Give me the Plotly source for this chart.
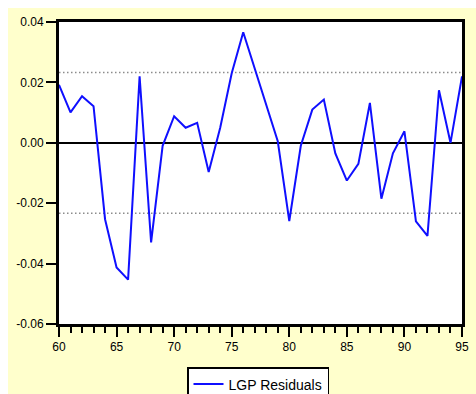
import plotly.graph_objects as go

# Regression residuals, annual, 1960-1995
years = list(range(60, 96))
residuals = [
    0.0192, 0.0101, 0.0154, 0.0121, -0.0253, -0.0413, -0.0453, 0.0220,
    -0.0330, -0.0010, 0.0088, 0.0050, 0.0066, -0.0097, 0.0050, 0.0230,
    0.0366, 0.0248, 0.0125, 0.0005, -0.0259, -0.0010, 0.0110, 0.0143,
    -0.0035, -0.0125, -0.0070, 0.0132, -0.0185, -0.0035, 0.0038, -0.0260,
    -0.0308, 0.0174, 0.0000, 0.0220,
]
series_name = "LGP Residuals"

# +/- one standard error band
std_err = 0.0233

y_tick_vals = [0.04, 0.02, 0.00, -0.02, -0.04, -0.06]
y_tick_text = ["0.04", "0.02", "0.00", "-0.02", "-0.04", "-0.06"]
x_tick_vals = [60, 65, 70, 75, 80, 85, 90, 95]

W, H = 476, 394
ML, MR, MT, MB = 59, 14, 22, 70
pw, ph = W - ML - MR, H - MT - MB


def px_to_paper_x(px):
    return (px - ML) / pw


def px_to_paper_y(py):
    return (H - MB - py) / ph


fig = go.Figure()
fig.add_trace(go.Scatter(
    x=years, y=residuals, mode="lines", name=series_name,
    line=dict(color="#0f0fff", width=2),
))

shapes = [
    # thin white strips along the top and left edges of the yellow panel
    dict(type="rect", xref="paper", yref="paper",
         x0=px_to_paper_x(-2), x1=px_to_paper_x(W + 2),
         y0=px_to_paper_y(-2), y1=px_to_paper_y(8),
         fillcolor="white", line=dict(width=0), layer="below"),
    dict(type="rect", xref="paper", yref="paper",
         x0=px_to_paper_x(-2), x1=px_to_paper_x(8),
         y0=px_to_paper_y(-2), y1=px_to_paper_y(H + 2),
         fillcolor="white", line=dict(width=0), layer="below"),
]
for s in (std_err, -std_err):
    shapes.append(dict(type="line", xref="paper", yref="y", x0=0, x1=1, y0=s, y1=s,
                       line=dict(color="#8c8c8c", width=1.5, dash="1.5px,2.5px"),
                       layer="below"))

fig.update_layout(
    width=W, height=H,
    margin=dict(l=ML, r=MR, t=MT, b=MB, pad=0, autoexpand=False),
    paper_bgcolor="#FFFFCC",
    plot_bgcolor="white",
    font=dict(family="Liberation Sans, Arial, sans-serif", size=12, color="black"),
    shapes=shapes,
    showlegend=True,
    legend=dict(
        x=px_to_paper_x(187), y=px_to_paper_y(367),
        xanchor="left", yanchor="top",
        bgcolor="white", bordercolor="black", borderwidth=1.5,
        font=dict(size=14, color="black"),
    ),
    xaxis=dict(
        range=[60, 95], tickvals=x_tick_vals,
        showgrid=False, zeroline=False,
        showline=True, linecolor="black", linewidth=3, mirror=True,
        ticks="outside", ticklen=10, tickwidth=2, tickcolor="black",
        minor=dict(dtick=1, ticks="outside", ticklen=6, tickwidth=2,
                   tickcolor="black", showgrid=False),
    ),
    yaxis=dict(
        range=[-0.06, 0.04], tickvals=y_tick_vals, ticktext=y_tick_text,
        showgrid=False,
        zeroline=True, zerolinecolor="black", zerolinewidth=1.5,
        showline=True, linecolor="black", linewidth=3, mirror=True,
        ticks="outside", ticklen=10, tickwidth=2, tickcolor="black",
    ),
)

fig.write_html("out.html")
